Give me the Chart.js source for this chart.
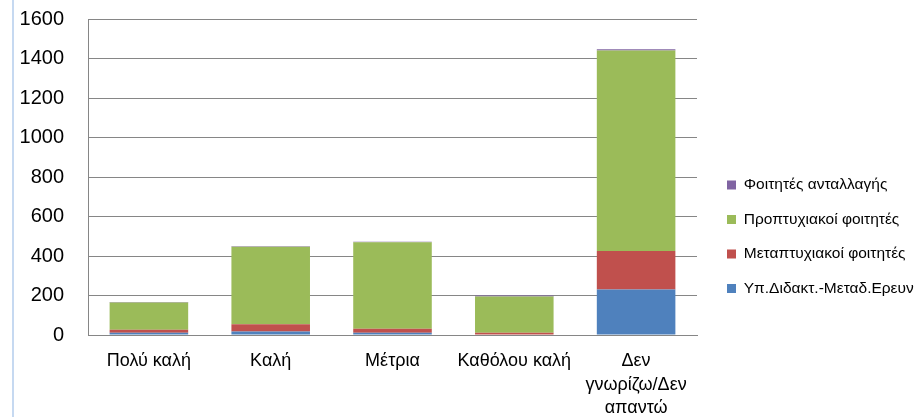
<!DOCTYPE html>
<html>
<head>
<meta charset="utf-8">
<script src="https://cdn.jsdelivr.net/npm/chart.js@4/dist/chart.umd.min.js"></script>
<style>
  html, body { margin: 0; padding: 0; background: #fff; }
  #wrap { width: 915px; height: 417px; position: relative; }
</style>
</head>
<body>
<div id="wrap"><canvas id="c"></canvas></div>
<script>
const categories = ['Πολύ καλή', 'Καλή', 'Μέτρια', 'Καθόλου καλή', ['Δεν', 'γνωρίζω/Δεν', 'απαντώ']];
const seriesNames = ['Υπ.Διδακτ.-Μεταδ.Ερευν.', 'Μεταπτυχιακοί φοιτητές', 'Προπτυχιακοί φοιτητές', 'Φοιτητές ανταλλαγής'];
const staffValues = [12, 18, 12, 3, 231];
const postgradValues = [15, 36, 20, 9, 194];
const undergradValues = [138, 393, 437, 183, 1016];
const exchangeValues = [2, 2, 3, 5, 6];
const yTicks = [0, 200, 400, 600, 800, 1000, 1200, 1400, 1600];

const colors = ['#4F81BD', '#C0504D', '#9BBB59', '#8064A2'];
const FONT = '"Liberation Sans", Arial, sans-serif';

const frame = {
  id: 'frame',
  beforeDraw(chart) {
    const ctx = chart.ctx;
    ctx.save();
    ctx.fillStyle = '#ffffff';
    ctx.fillRect(0, 0, chart.width, chart.height);
    ctx.fillStyle = '#c6d9f1';
    ctx.fillRect(12, 0, 2, chart.height);
    ctx.restore();
  }
};

const legendPlace = {
  id: 'legendPlace',
  beforeLayout(chart) {
    const lg = chart.legend;
    if (lg && !lg._patched) {
      const orig = lg.fit.bind(lg);
      lg.fit = function () { orig(); this.width = 218; };
      lg._patched = true;
    }
  },
  afterLayout(chart) {
    const lg = chart.legend;
    if (!lg) return;
    const w = lg.width, h = lg.height;
    lg.left = 708; lg.right = lg.left + w;
    lg.top = 158.25; lg.bottom = lg.top + h;
  }
};

new Chart(document.getElementById('c'), {
  type: 'bar',
  data: {
    labels: categories,
    datasets: [
      { label: seriesNames[0], data: staffValues, backgroundColor: colors[0] },
      { label: seriesNames[1], data: postgradValues, backgroundColor: colors[1] },
      { label: seriesNames[2], data: undergradValues, backgroundColor: colors[2] },
      { label: seriesNames[3], data: exchangeValues, backgroundColor: colors[3] }
    ]
  },
  options: {
    responsive: true,
    maintainAspectRatio: false,
    animation: false,
    devicePixelRatio: 1,
    layout: { padding: { top: 19, left: 14, right: 0, bottom: 0 } },
    datasets: { bar: { categoryPercentage: 1.0, barPercentage: 0.645, borderWidth: 0 } },
    plugins: {
      tooltip: { enabled: false },
      legend: {
        position: 'right',
        align: 'start',
        reverse: true,
        labels: {
          boxWidth: 9,
          boxHeight: 9,
          padding: 19,
          color: '#000',
          font: { family: FONT, size: 15.5 }
        }
      }
    },
    scales: {
      x: {
        stacked: true,
        afterFit(scale) { scale.height = 82; },
        grid: { display: false, drawTicks: false },
        border: { display: true, color: '#868686', width: 1 },
        ticks: {
          color: '#000',
          padding: 15,
          maxRotation: 0,
          autoSkip: false,
          font: { family: FONT, size: 18, lineHeight: 1.28 }
        }
      },
      y: {
        stacked: true,
        min: 0,
        max: 1600,
        afterBuildTicks(scale) { scale.ticks = yTicks.map(v => ({ value: v })); },
        afterFit(scale) { scale.width = 74; scale.paddingTop = 0; scale.paddingBottom = 0; },
        grid: { color: '#868686', lineWidth: 1, drawTicks: false },
        border: { display: true, color: '#868686', width: 1 },
        ticks: {
          color: '#000',
          padding: 24,
          callback: (v) => String(v),
          font: { family: FONT, size: 20 }
        }
      }
    }
  },
  plugins: [frame, legendPlace]
});
</script>
</body>
</html>
